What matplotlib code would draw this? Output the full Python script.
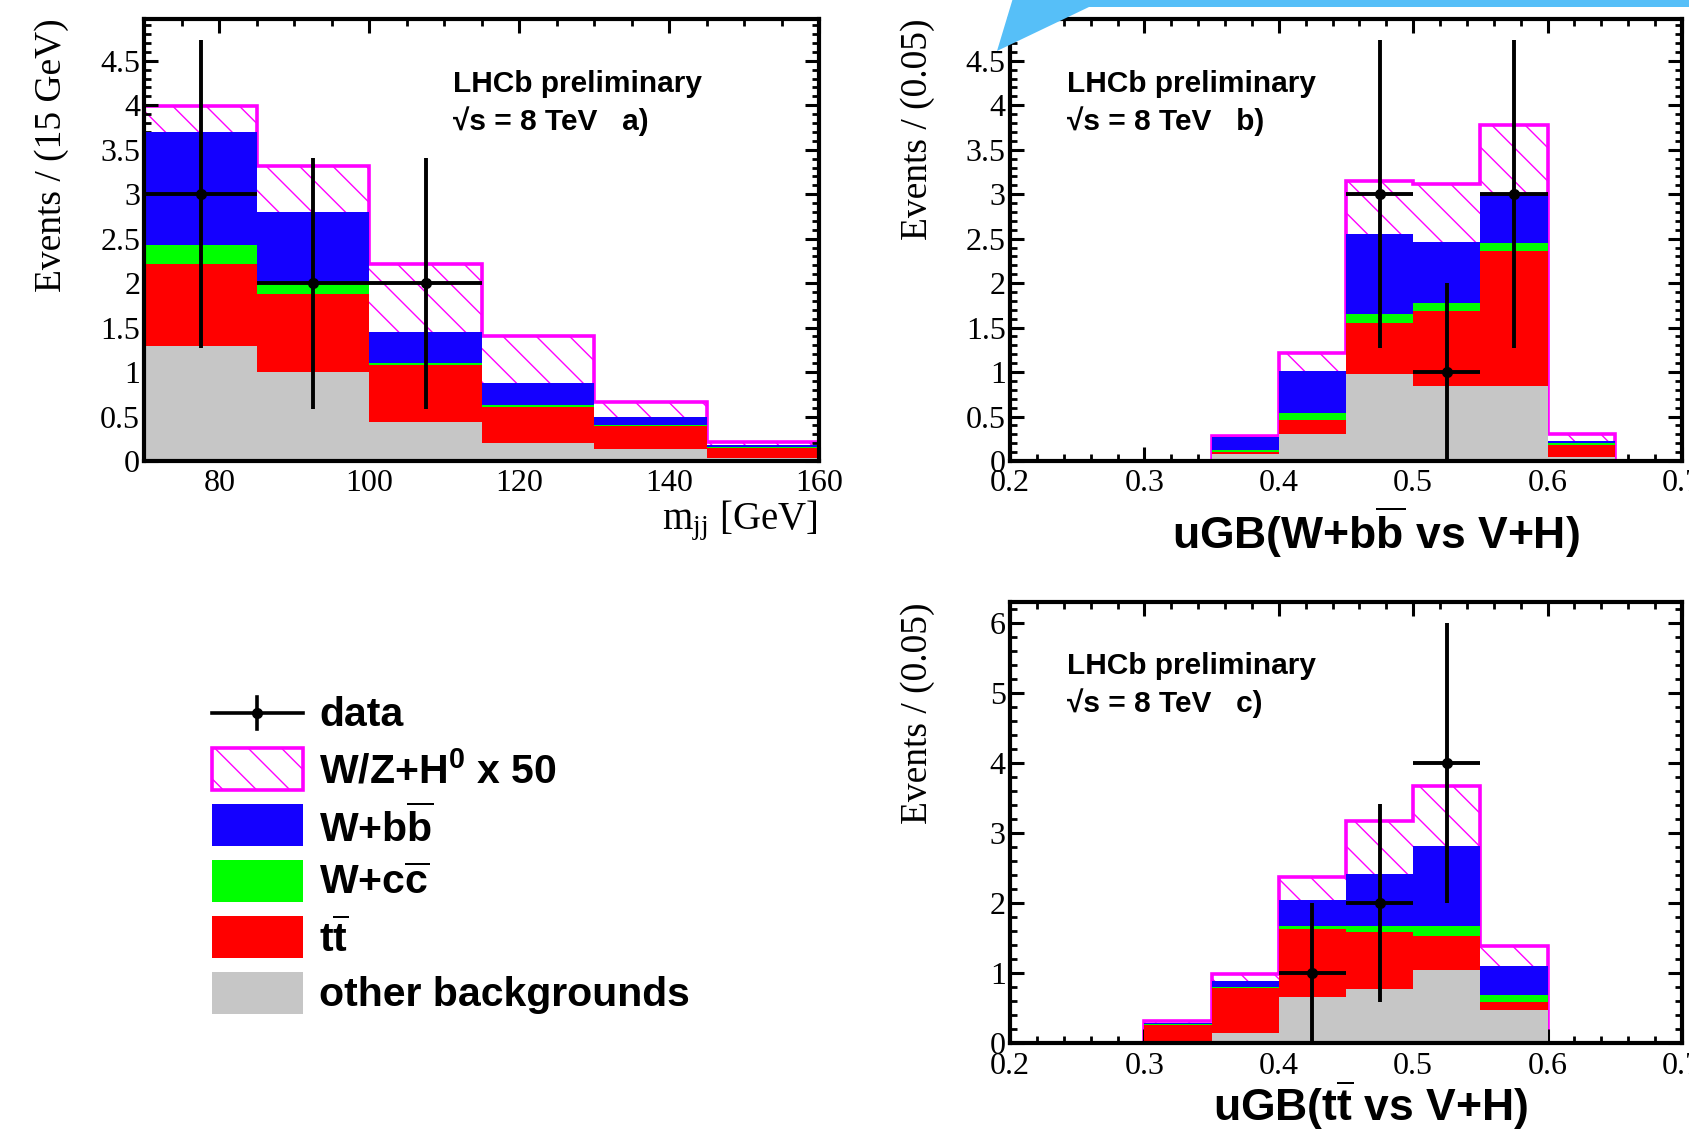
import numpy as np
import matplotlib
matplotlib.use("Agg")
import matplotlib.pyplot as plt
from matplotlib.ticker import MultipleLocator
from matplotlib.patches import Rectangle, Polygon
from matplotlib.lines import Line2D

plt.rcParams['hatch.linewidth'] = 1.0

W, H = 1690, 1129
DPI = 100

# ---------------- data ----------------
# panel a: m_jj
edges_a = [70, 85, 100, 115, 130, 145, 160]
a_other = [1.29, 1.00, 0.44, 0.20, 0.13, 0.03]
a_tt    = [0.93, 0.88, 0.64, 0.41, 0.26, 0.12]
a_cc    = [0.21, 0.11, 0.02, 0.02, 0.02, 0.01]
a_bb    = [1.27, 0.81, 0.35, 0.25, 0.08, 0.02]
a_sig   = [0.29, 0.52, 0.76, 0.53, 0.17, 0.03]
a_data_x = [77.5, 92.5, 107.5]
a_data_y = [3, 2, 2]
a_data_yerr = [1.73, 1.41, 1.41]
a_data_xerr = [7.5, 7.5, 7.5]

# panel b: uGB(W+bb vs V+H)
edges_b = [0.35, 0.40, 0.45, 0.50, 0.55, 0.60, 0.65]
b_other = [0.08, 0.30, 0.98, 0.84, 0.84, 0.05]
b_tt    = [0.02, 0.16, 0.57, 0.85, 1.52, 0.13]
b_cc    = [0.02, 0.08, 0.10, 0.09, 0.09, 0.02]
b_bb    = [0.15, 0.47, 0.90, 0.68, 0.54, 0.02]
b_sig   = [0.01, 0.20, 0.60, 0.65, 0.79, 0.08]
b_data_x = [0.475, 0.525, 0.575]
b_data_y = [3, 1, 3]
b_data_yerr = [1.73, 1.0, 1.73]
b_data_xerr = [0.025, 0.025, 0.025]

# panel c: uGB(tt vs V+H)
edges_c = [0.30, 0.35, 0.40, 0.45, 0.50, 0.55, 0.60]
c_other = [0.03, 0.14, 0.66, 0.78, 1.05, 0.47]
c_tt    = [0.23, 0.65, 0.97, 0.81, 0.48, 0.12]
c_cc    = [0.01, 0.01, 0.04, 0.09, 0.15, 0.10]
c_bb    = [0.02, 0.09, 0.37, 0.74, 1.14, 0.41]
c_sig   = [0.03, 0.10, 0.33, 0.75, 0.86, 0.29]
c_data_x = [0.425, 0.475, 0.525]
c_data_y = [1, 2, 4]
c_data_yerr = [1.0, 1.41, 2.0]
c_data_xerr = [0.025, 0.025, 0.025]

legend_labels = ["data", r"W/Z+H$^{\mathbf{0}}$ x 50", r"W+b$\overline{\mathrm{b}}$",
                 r"W+c$\overline{\mathrm{c}}$", r"t$\overline{\mathrm{t}}$", "other backgrounds"]

# ---------------- style ----------------
C_OTHER = '#c6c6c6'
C_TT = '#ff0000'
C_CC = '#00ff00'
C_BB = '#1400ff'
C_SIG = '#ff00ff'

SERIF = ['Liberation Serif', 'DejaVu Serif']
SANS = ['Liberation Sans', 'DejaVu Sans']
plt.rcParams['mathtext.fontset'] = 'custom'
plt.rcParams['mathtext.rm'] = 'Liberation Sans:bold'
plt.rcParams['mathtext.it'] = 'Liberation Sans:bold'
plt.rcParams['mathtext.bf'] = 'Liberation Sans:bold'

fig = plt.figure(figsize=(W / DPI, H / DPI), dpi=DPI)


def fx(px):
    return px / W


def fy(py):
    return 1 - py / H


def make_axes(l, t, r, b):
    return fig.add_axes([fx(l), fy(b), fx(r) - fx(l), (b - t) / H])


def draw_panel(ax, edges, other, tt, cc, bb, sig, dx, dy, dyerr, dxerr):
    other = np.array(other)
    l1 = other
    l2 = l1 + np.array(tt)
    l3 = l2 + np.array(cc)
    l4 = l3 + np.array(bb)
    l5 = l4 + np.array(sig)
    ax.stairs(l5, edges, baseline=l4, fill=True, facecolor='white',
              edgecolor=C_SIG, hatch='\\', linewidth=0, zorder=1)
    ax.stairs(l5, edges, baseline=0, color=C_SIG, linewidth=2.6, zorder=1.5)
    ax.stairs(l4, edges, baseline=l3, fill=True, color=C_BB, linewidth=0, zorder=2)
    ax.stairs(l3, edges, baseline=l2, fill=True, color=C_CC, linewidth=0, zorder=2)
    ax.stairs(l2, edges, baseline=l1, fill=True, color=C_TT, linewidth=0, zorder=2)
    ax.stairs(l1, edges, baseline=0, fill=True, color=C_OTHER, linewidth=0, zorder=2)
    ax.errorbar(dx, dy, yerr=dyerr, xerr=dxerr, fmt='o', color='black',
                ms=7, elinewidth=2.8, capsize=0, zorder=5)


def style_axes(ax, xlim, ylim, xmaj, xmin, ymaj, ymin, xfmt):
    ax.set_xlim(*xlim)
    ax.set_ylim(*ylim)
    ax.xaxis.set_major_locator(MultipleLocator(xmaj))
    ax.xaxis.set_minor_locator(MultipleLocator(xmin))
    ax.yaxis.set_major_locator(MultipleLocator(ymaj))
    ax.yaxis.set_minor_locator(MultipleLocator(ymin))
    ax.tick_params(which='both', direction='in', top=True, right=True)
    ax.tick_params(which='major', length=10, width=2.2)
    ax.tick_params(which='minor', length=5, width=2.0)
    ax.tick_params(axis='x', which='major', pad=6)
    ax.tick_params(axis='y', which='major', pad=3)
    for sp in ax.spines.values():
        sp.set_linewidth(3.0)
        sp.set_zorder(10)
    ax.xaxis.set_major_formatter(xfmt)
    ax.yaxis.set_major_formatter(matplotlib.ticker.FuncFormatter(
        lambda v, p: ('%g' % round(v, 3))))
    for lab in ax.get_xticklabels() + ax.get_yticklabels():
        lab.set_fontfamily(SERIF)
        lab.set_fontsize(23)


fmt_int = matplotlib.ticker.FuncFormatter(lambda v, p: '%d' % round(v))
fmt_dec = matplotlib.ticker.FuncFormatter(lambda v, p: '%.1f' % v)

LHCB_FS = 21.5

# ---------------- panel a ----------------
axa = make_axes(144.3, 19, 819.3, 461)
draw_panel(axa, edges_a, a_other, a_tt, a_cc, a_bb, a_sig,
           a_data_x, a_data_y, a_data_yerr, a_data_xerr)
style_axes(axa, (70, 160), (0, 4.97), 20, 5, 0.5, 0.1, fmt_int)
axa.text(fx(452.7), fy(84), "LHCb preliminary", transform=fig.transFigure,
         fontfamily=SANS, fontweight='bold', fontsize=LHCB_FS, va='center', ha='left')
axa.text(fx(452.7), fy(121), "√s = 8 TeV   a)", transform=fig.transFigure,
         fontfamily=SANS, fontweight='bold', fontsize=LHCB_FS, va='center', ha='left')

# ---------------- panel b ----------------
axb = make_axes(1010, 19, 1682, 461)
draw_panel(axb, edges_b, b_other, b_tt, b_cc, b_bb, b_sig,
           b_data_x, b_data_y, b_data_yerr, b_data_xerr)
style_axes(axb, (0.2, 0.7), (0, 4.97), 0.1, 0.02, 0.5, 0.1, fmt_dec)
axb.text(fx(1067), fy(84), "LHCb preliminary", transform=fig.transFigure,
         fontfamily=SANS, fontweight='bold', fontsize=LHCB_FS, va='center', ha='left')
axb.text(fx(1067), fy(121), "√s = 8 TeV   b)", transform=fig.transFigure,
         fontfamily=SANS, fontweight='bold', fontsize=LHCB_FS, va='center', ha='left')

# ---------------- panel c ----------------
axc = make_axes(1010, 602, 1682, 1043.3)
draw_panel(axc, edges_c, c_other, c_tt, c_cc, c_bb, c_sig,
           c_data_x, c_data_y, c_data_yerr, c_data_xerr)
style_axes(axc, (0.2, 0.7), (0, 6.3), 0.1, 0.02, 1, 0.2, fmt_dec)
axc.text(fx(1067), fy(666), "LHCb preliminary", transform=fig.transFigure,
         fontfamily=SANS, fontweight='bold', fontsize=LHCB_FS, va='center', ha='left')
axc.text(fx(1067), fy(703), "√s = 8 TeV   c)", transform=fig.transFigure,
         fontfamily=SANS, fontweight='bold', fontsize=LHCB_FS, va='center', ha='left')

# ---------------- axis titles ----------------
fig.text(fx(52), fy(18), "Events / (15 GeV)", rotation=90, ha='center', va='top',
         fontfamily=SERIF, fontsize=27)
fig.text(fx(918), fy(18), "Events / (0.05)", rotation=90, ha='center', va='top',
         fontfamily=SERIF, fontsize=27)
fig.text(fx(918), fy(603), "Events / (0.05)", rotation=90, ha='center', va='top',
         fontfamily=SERIF, fontsize=27)
fig.text(fx(818), fy(529), r"m$_{\mathregular{jj}}$ [GeV]", ha='right', va='baseline',
         fontfamily=SERIF, fontsize=28, math_fontfamily='stix')
fig.text(fx(1376), fy(549), r"uGB(W+b$\overline{\mathrm{b}}$ vs V+H)", ha='center',
         va='baseline', fontfamily=SANS, fontweight='bold', fontsize=32)
fig.text(fx(1371), fy(1121), r"uGB(t$\overline{\mathrm{t}}$ vs V+H)", ha='center',
         va='baseline', fontfamily=SANS, fontweight='bold', fontsize=32)

# ---------------- legend (manual, pixel layout) ----------------
lax = fig.add_axes([0, 0, 1, 1], zorder=20)
lax.set_xlim(0, W)
lax.set_ylim(H, 0)
lax.axis('off')
row_y = [713, 769, 825, 881, 937, 993]
box_l, box_r, box_h = 212, 303, 42
lax.add_line(Line2D([box_l, box_r], [row_y[0], row_y[0]], color='black', lw=2.6))
lax.add_line(Line2D([(box_l + box_r) / 2] * 2, [row_y[0] - 16, row_y[0] + 16],
                    color='black', lw=2.6))
lax.plot([(box_l + box_r) / 2], [row_y[0]], 'o', color='black', ms=7)
patch_styles = [
    dict(facecolor='white', edgecolor=C_SIG, hatch='\\', linewidth=2.6),
    dict(facecolor=C_BB, edgecolor=C_BB, linewidth=0),
    dict(facecolor=C_CC, edgecolor=C_CC, linewidth=0),
    dict(facecolor=C_TT, edgecolor=C_TT, linewidth=0),
    dict(facecolor=C_OTHER, edgecolor=C_OTHER, linewidth=0),
]
for yy, st in zip(row_y[1:], patch_styles):
    lax.add_patch(Rectangle((box_l, yy - box_h / 2), box_r - box_l, box_h, **st))
for yy, lab in zip(row_y, legend_labels):
    lax.text(319, yy + 2, lab, ha='left', va='center', fontfamily=SANS,
             fontweight='bold', fontsize=29.5)

# ---------------- blue callout overlay ----------------
lax.add_patch(Polygon([(1013, -2), (997, 51), (1089, 7), (W + 2, 7), (W + 2, -2)],
                      closed=True, facecolor='#56bff8', edgecolor='none'))

fig.savefig("out.png", dpi=DPI)
